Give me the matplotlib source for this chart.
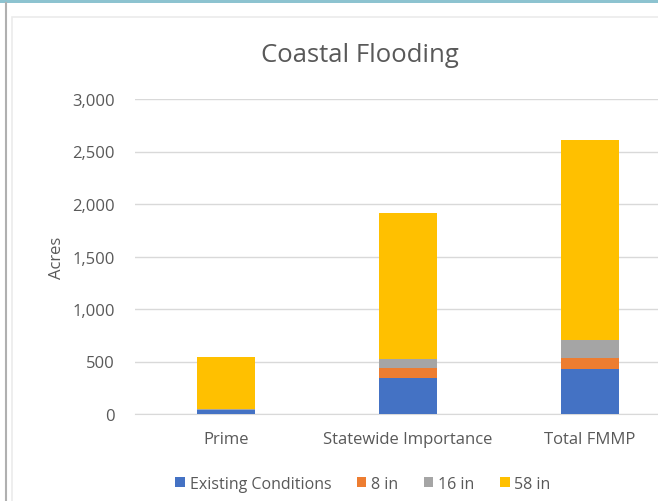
import matplotlib.pyplot as plt
import numpy as np
from matplotlib.ticker import FuncFormatter
from matplotlib.patches import Rectangle
from matplotlib.lines import Line2D

categories = ['Prime', 'Statewide Importance', 'Total FMMP']
series_names = ['Existing Conditions', '8 in', '16 in', '58 in']
existing = [35, 345, 430]
in_8 = [5, 95, 105]
in_16 = [5, 85, 170]
in_58 = [500, 1385, 1905]
colors = ['#4472C4', '#ED7D31', '#A5A5A5', '#FFC000']

plt.rcParams['font.family'] = ['Open Sans', 'DejaVu Sans']

fig = plt.figure(figsize=(6.58, 5.02), dpi=100)
fig.patch.set_facecolor('white')

# frame decorations around the chart
fig.add_artist(Rectangle((0, 1 - 4 / 502), 1, 4 / 502, transform=fig.transFigure,
                         facecolor='#8DC3D0', edgecolor='none'))
fig.add_artist(Line2D([5.5 / 658, 5.5 / 658], [0, 1 - 4 / 502], transform=fig.transFigure,
                      color='#B0B0B0', lw=1.5))
fig.add_artist(Rectangle((12 / 658, -0.1), 1.0, 1 - 18 / 502 + 0.1, transform=fig.transFigure,
                         facecolor='none', edgecolor='#EBEBEB', lw=1.2))

# plot area: x from 135 px to 681 px, y from 100 px (3000) to 415 px (0)
ax = fig.add_axes([135 / 658, (502 - 415) / 502, 546 / 658, 315 / 502])
ax.set_facecolor('none')

x = np.arange(len(categories))
width = 0.32
bottom = np.zeros(len(categories))
for name, vals, c in zip(series_names, [existing, in_8, in_16, in_58], colors):
    ax.bar(x, vals, width, bottom=bottom, color=c, label=name, zorder=3)
    bottom += np.array(vals)

ax.set_xlim(-0.5, 2.5)
ax.set_ylim(0, 3000)
ax.set_yticks(np.arange(0, 3001, 500))
ax.yaxis.set_major_formatter(FuncFormatter(lambda v, p: f'{int(v):,}'))
ax.grid(axis='y', color='#D9D9D9', lw=1, zorder=0)
for s in ['top', 'right', 'left']:
    ax.spines[s].set_visible(False)
ax.spines['bottom'].set_color('#D9D9D9')
ax.tick_params(axis='both', length=0, colors='#595959', labelsize=12)
ax.tick_params(axis='y', pad=14.5)
ax.tick_params(axis='x', pad=12)
ax.set_xticks(x)
ax.set_xticklabels(categories)

fig.text(57 / 658, 1 - 258 / 502, 'Acres', rotation=90, ha='center', va='center',
         color='#595959', fontsize=12)
fig.text(360 / 658, 1 - 55 / 502, 'Coastal Flooding', ha='center', va='center',
         color='#595959', fontsize=18.5)

fig.legend(loc='center', bbox_to_anchor=(363 / 658, 1 - 485 / 502), ncol=4, frameon=False,
           fontsize=11.5, labelcolor='#595959', handlelength=0.6, handleheight=0.6,
           handletextpad=0.3, columnspacing=1.6)

plt.savefig('out.png', dpi=100)
